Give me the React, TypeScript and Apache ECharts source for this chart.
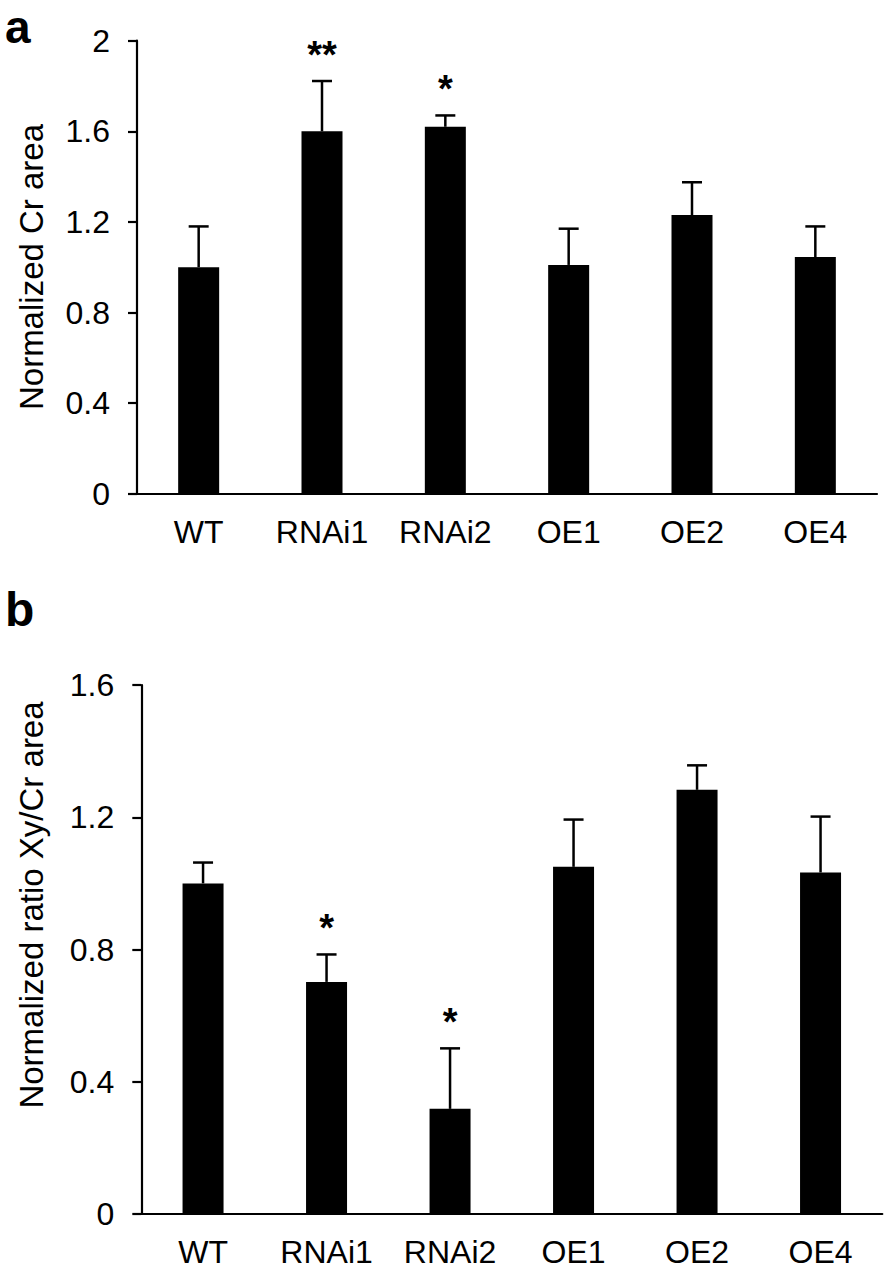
import React, { useEffect, useRef } from 'react';
import * as echarts from 'echarts';

const categories = ['WT', 'RNAi1', 'RNAi2', 'OE1', 'OE2', 'OE4'];

// Panel a: Normalized Cr area
const crArea = [1.0, 1.6, 1.62, 1.01, 1.23, 1.045];
const crAreaErr = [0.18, 0.222, 0.05, 0.16, 0.145, 0.135];
const crAreaSig = ['', '**', '*', '', '', ''];
const crAxisMax = 2;
const crAxisInterval = 0.4;

// Panel b: Normalized ratio Xy/Cr area
const xyRatio = [1.0, 0.702, 0.318, 1.05, 1.283, 1.033];
const xyRatioErr = [0.063, 0.083, 0.183, 0.143, 0.074, 0.169];
const xyRatioSig = ['', '*', '*', '', '', ''];
const xyAxisMax = 1.6;
const xyAxisInterval = 0.4;

const FONT = '"Liberation Sans", Arial, Helvetica, sans-serif';

function errSeries(idx: number, vals: number[], errs: number[], sigs: string[]) {
  return {
    type: 'custom',
    xAxisIndex: idx,
    yAxisIndex: idx,
    z: 5,
    data: vals.map((v, i) => [i, v, v + errs[i]]),
    renderItem: (params: any, api: any) => {
      const base = api.coord([api.value(0), api.value(1)]);
      const top = api.coord([api.value(0), api.value(2)]);
      const sig = sigs[params.dataIndex];
      const children: any[] = [
        { type: 'line', shape: { x1: base[0], y1: base[1], x2: top[0], y2: top[1] }, style: { stroke: '#000', lineWidth: 2.5 } },
        { type: 'line', shape: { x1: top[0] - 10, y1: top[1], x2: top[0] + 10, y2: top[1] }, style: { stroke: '#000', lineWidth: 2.5 } },
      ];
      if (sig) {
        children.push({
          type: 'text',
          x: top[0],
          y: top[1] - 26,
          style: { text: sig, fontSize: 38, fontWeight: 'bold', fill: '#000', align: 'center', verticalAlign: 'middle', fontFamily: FONT },
        });
      }
      return { type: 'group', children };
    },
  };
}

function yAxisCfg(idx: number, max: number, interval: number) {
  return {
    type: 'value',
    gridIndex: idx,
    min: 0,
    max,
    interval,
    splitLine: { show: false },
    axisLine: { show: true, lineStyle: { color: '#000', width: 2.2 } },
    axisTick: { show: true, length: 9, lineStyle: { color: '#000', width: 2.2 } },
    axisLabel: { color: '#000', fontSize: 32, fontFamily: FONT, margin: 27 },
  };
}

function xAxisCfg(idx: number) {
  return {
    type: 'category',
    gridIndex: idx,
    data: categories,
    axisLine: { show: true, lineStyle: { color: '#000', width: 2.2 } },
    axisTick: { show: false },
    axisLabel: { color: '#000', fontSize: 32, fontFamily: FONT, margin: 22, interval: 0 },
  };
}

export default function App() {
  const ref = useRef<HTMLDivElement>(null);
  useEffect(() => {
    if (!ref.current) return;
    const chart = echarts.init(ref.current, undefined, { renderer: 'svg' });
    chart.setOption({
      animation: false,
      backgroundColor: '#fff',
      grid: [
        { left: 137, top: 40.7, width: 740, height: 453 },
        { left: 141.3, top: 685, width: 741, height: 529 },
      ],
      xAxis: [xAxisCfg(0), xAxisCfg(1)],
      yAxis: [yAxisCfg(0, crAxisMax, crAxisInterval), yAxisCfg(1, xyAxisMax, xyAxisInterval)],
      series: [
        { type: 'bar', xAxisIndex: 0, yAxisIndex: 0, data: crArea, barWidth: 41, itemStyle: { color: '#000' } },
        errSeries(0, crArea, crAreaErr, crAreaSig),
        { type: 'bar', xAxisIndex: 1, yAxisIndex: 1, data: xyRatio, barWidth: 41, itemStyle: { color: '#000' } },
        errSeries(1, xyRatio, xyRatioErr, xyRatioSig),
      ],
      graphic: [
        { type: 'text', left: 5, top: 4, style: { text: 'a', fontSize: 46, lineHeight: 40, fontWeight: 'bold', fill: '#000', fontFamily: FONT } },
        { type: 'text', left: 5, top: 585, style: { text: 'b', fontSize: 48, lineHeight: 48, fontWeight: 'bold', fill: '#000', fontFamily: FONT } },
        {
          type: 'text', x: 31, y: 267, rotation: Math.PI / 2,
          style: { text: 'Normalized Cr area', fontSize: 33, fill: '#000', align: 'center', verticalAlign: 'middle', fontFamily: FONT },
        },
        {
          type: 'text', x: 31, y: 905, rotation: Math.PI / 2,
          style: { text: 'Normalized ratio Xy/Cr area', fontSize: 33, fill: '#000', align: 'center', verticalAlign: 'middle', fontFamily: FONT },
        },
      ],
    });
    return () => chart.dispose();
  }, []);
  return <div ref={ref} style={{ position: 'absolute', left: 0, top: 0, width: 886, height: 1270 }} />;
}
